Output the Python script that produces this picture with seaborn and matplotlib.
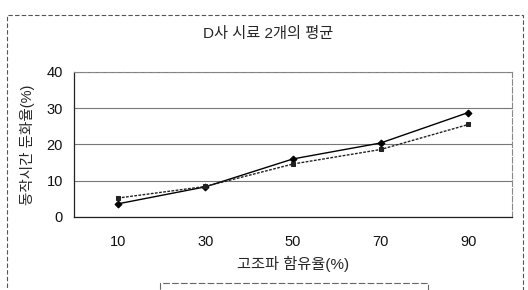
import pandas as pd
import seaborn as sns
import matplotlib.pyplot as plt
from matplotlib.patches import Rectangle

# === Data ===
contents = ["10", "30", "50", "70", "90"]
series_a = [3.6, 8.3, 16.0, 20.4, 28.8]
series_b = [5.2, 8.4, 14.6, 18.6, 25.5]
series_names = ["시료 1", "시료 2"]

df = pd.DataFrame({
    "content": contents * 2,
    "rate": series_a + series_b,
    "sample": [series_names[0]] * len(contents) + [series_names[1]] * len(contents),
})

sns.set_theme(style="white")
plt.rcParams["font.family"] = ["Liberation Sans", "Noto Sans CJK KR"]

fig = plt.figure(figsize=(5.28, 2.9), dpi=100)
ax = fig.add_axes([0.140, 0.252, 0.830, 0.500])

# outer chart frame (scanned excel look)
fig.patches.append(Rectangle((7 / 528, -0.1), 516 / 528, 1.1 - 15 / 290,
                             transform=fig.transFigure, fill=False,
                             edgecolor="#555555", linewidth=0.8, linestyle=(0, (4, 2))))

sns.pointplot(data=df, x="content", y="rate", hue="sample", order=contents,
              palette=["black", "#222222"], markers=["D", "s"],
              linestyles=["-", (0, (2, 1))], markersize=3.5, linewidth=1.0,
              ax=ax, legend=False)

ax.set_xlim(-0.5, len(contents) - 0.5)
ax.set_ylim(0, 40)
ax.set_yticks([0, 10, 20, 30, 40])
ax.yaxis.grid(True, color="#777777", linewidth=0.8)
ax.xaxis.grid(False)
ax.set_axisbelow(True)
for side in ["left", "bottom"]:
    ax.spines[side].set_color("#222222")
    ax.spines[side].set_linewidth(0.9)
for side in ["top", "right"]:
    ax.spines[side].set_color("#888888")
    ax.spines[side].set_linewidth(0.8)
    ax.spines[side].set_linestyle((0, (5, 2)))
ax.tick_params(axis="both", length=0, labelsize=10.5, colors="#111111")
ax.tick_params(axis="x", pad=13)
ax.tick_params(axis="y", pad=8)

ax.set_xlabel("고조파 함유율(%)", fontsize=11, labelpad=5)
ax.set_ylabel("동작시간 둔화율(%)", fontsize=10.5, labelpad=8)
fig.text(0.508, 0.883, "D사 시료 2개의 평균", ha="center", va="center", fontsize=11)

# legend box, mostly cut off at the bottom edge
fig.patches.append(Rectangle((160 / 528, -0.1), 268 / 528, 0.1 + 7 / 290,
                             transform=fig.transFigure, fill=False,
                             edgecolor="#666666", linewidth=0.8, linestyle=(0, (6, 2))))

plt.savefig("out.png", dpi=100)
